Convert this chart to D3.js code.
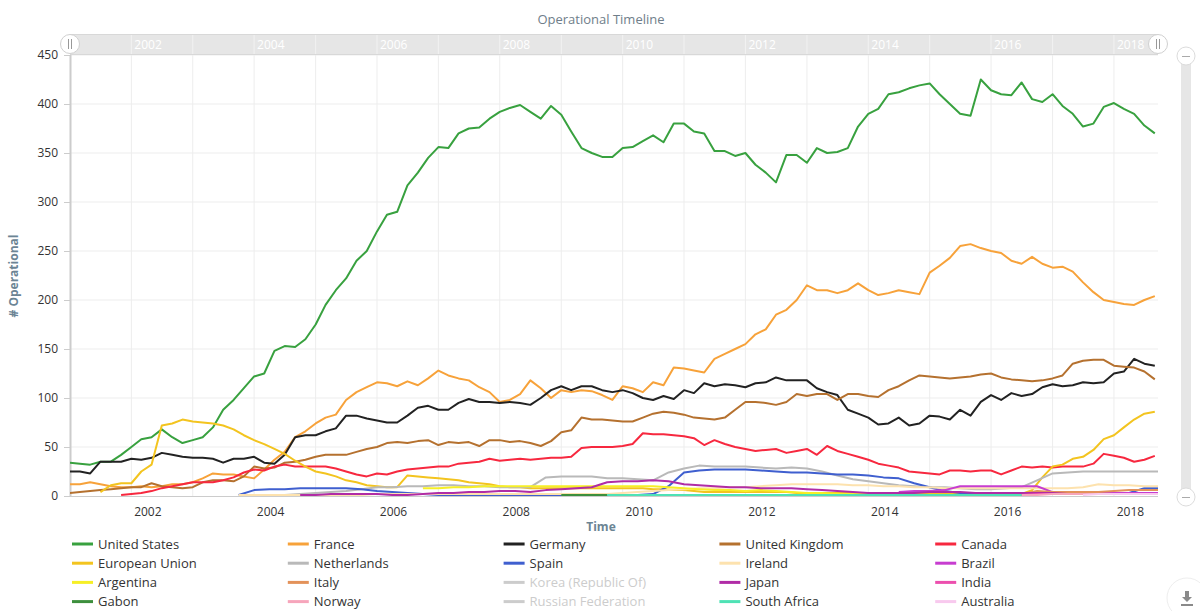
<!DOCTYPE html>
<html>
<head>
<meta charset="utf-8">
<script src="https://cdn.jsdelivr.net/npm/d3@7"></script>
<style>
  body { margin: 0; background: #fff; font-family: "Open Sans", sans-serif; }
</style>
</head>
<body>
<script>
// values, US..Canada every 2 months, the small ones every quarter
var usValues = [34,33,32,35,35,42,50,58,60,68, 60,54,57,60,70,88,98,110,122,125,
  148,153,152,160,175,195,210,222,240,250, 270,287,290,317,330,345,356,355,370,375,
  376,385,392,396,399,392,385,398,389,372, 355,350,346,346,355,356,362,368,361,380,
  380,372,370,352,352,347,350,338,330,320, 348,348,340,355,350,351,355,377,390,395,
  410,412,416,419,421,410,400,390,388,425, 414,410,409,422,405,402,410,398,390,377,
  380,397,401,395,390,378,370];
var franceValues = [12,12,14,12,10,9,9,10,9,10, 12,12,14,18,23,22,22,20,18,27,
  37,45,60,66,74,80,83,98,106,111, 116,115,112,117,113,120,128,123,120,118,
  111,106,96,98,104,118,110,100,108,106, 108,107,103,98,112,110,106,116,113,131,
  130,128,126,140,145,150,155,165,170,185, 190,200,215,210,210,207,210,217,210,205,
  207,210,208,206,228,235,243,255,257,253, 250,248,240,237,244,237,233,234,229,218,
  208,200,198,196,195,200,204];
var germanyValues = [25,25,23,35,35,35,38,37,39,44, 42,40,39,39,38,34,38,38,40,34,
  33,42,60,62,62,66,69,82,82,79, 77,75,75,82,90,92,88,88,95,99,
  96,96,95,96,95,93,100,108,112,108, 112,112,108,106,108,105,100,98,102,99,
  108,105,115,112,114,113,111,115,116,121, 118,118,118,110,106,103,88,84,80,73,
  74,80,72,74,82,81,78,88,82,96, 103,98,105,102,104,111,114,112,113,116,
  115,116,125,127,140,135,133];
var ukValues = [3,4,5,6,7,8,9,9,13,10, 9,8,9,14,16,16,15,20,30,28,
  29,34,35,37,40,42,42,42,45,48, 50,54,55,54,56,57,52,55,54,55,
  51,57,57,55,56,54,51,56,65,67, 80,78,78,77,76,76,80,84,86,85,
  83,80,79,78,80,88,96,96,95,93, 96,104,102,104,104,98,104,104,102,101,
  108,112,118,123,122,121,120,121,122,124, 125,121,119,118,117,118,120,123,135,138,
  139,139,133,132,131,127,119];
var canadaValues = [1,2,3,5,8, 10,12,14,14,14,16,19,24,27,26,
  30,32,30,30,30,30,28,25,22,20, 23,22,25,27,28,29,30,30,33,34,
  35,38,36,37,38,37,38,39,39,40, 49,50,50,50,51,53,64,63,63,62,
  61,59,52,57,53,50,48,46,47,48, 44,46,48,42,51,46,43,40,37,33,
  31,29,25,24,23,22,26,26,25,26, 26,22,26,30,29,30,29,30,30,30,
  33,43,41,39,35,37,41];
var euValues = [4,11,13,13,25,32,72, 74,78,76,75,74,72,68,62,57,53,
  48,43,36,30,25,23,20,16,14,11, 10,9,9,21,20,19,18,17,16,14,
  13,12,10,9,9,8,8,8,8,8, 8,8,8,8,8,8,8,7,7,6,
  6,5,4,4,4,4,4,4,4,4, 4,3,3,3,3,3,3,3,3,3,
  3,2,2,2,2,2,2,2,2,2, 2,2,2,2,6,19,30,32,38,40,
  47,58,62,70,78,84,86];
var netherlandsValues = [1,2,3,4,5,7,9,9,10,10, 11,11,10,10,9,9,9,19,20,20,
  20,18,18,17,16,24,28,31,30,30, 30,29,28,29,28,25,21,17,15,13,
  11,10,9,9,8,7,7,8,9,16, 23,24,25,25,25,25,25,25];
var spainValues = [1,6,7,7,8,8,8,8,7,5,4,3,2,
  1,1,1,1,1,1,1,1,1,1,1,1,1,1,
  2,10,24,26,27,27,27,26,25,24,24,23,22,22,21,19,18,13,9,5,3,3,
  2,2,2,2,2,2,2,2,2, 3,8,8];
var irelandValues = [1,1,1,1,1,1,1,1,1,
  2,2,2,2,2,2,2,2,2,2,2,2,2,2,2,2,
  3,4,5,6,7,8,8,9,9,10,11,12,12,12,12,11,11,10,10,9,9,8,8,8,8,8,8,8,8,8,9,12,11,11,10,10];
var brazilValues = [4,5,5,6,10,10,10,10,10,10,4,3,3,3,3,3,3,3];
var argentinaValues = [8,8,9,9,10,10,10,10,10,10,10,10,10,10,10,10,9,8,7,6,6,5,6,5,4,3,3,2,2,2,2];
var italyValues = [2,5,4,4,4,4,5,6,6,6];
var japanValues = [1,1,2,2,2,2,1,1,2,3, 3,4,4,5,5,4,6,7,8,9,
  14,15,15,16,15,12,11,10,9,9, 8,8,8,7,6,5,4,3,3,3,
  3,4,4,4,3,3,3,3,3,3, 2,2,2,2,2,2,2,2];
var indiaValues = [1,1,1,1,1,1,1,1,1,1,1,1,1,1,1,1,2,2,2,2,2,2,2,2,2];
var gabonValues = [1,1,1,1];
var norwayValues = [1,1,2,2,2,2,2,2,2,2];
var southAfricaValues = [1,1,1,1,1,1,1,1,1,1,1,1,1,1,1,1,1,1,1,1,1,1,1,1,1,1,1,1];
var australiaValues = [1,2,2,2,2,2];

var yTicks = [0,50,100,150,200,250,300,350,400,450];
var yearLabels = [2002,2004,2006,2008,2010,2012,2014,2016,2018];

// name, colour, first month, step in months, values, hidden?
var series = [
  {name: 'United States', color: '#38a13f', start: [2001,0], step: 2, values: usValues},
  {name: 'France', color: '#f7a23a', start: [2001,0], step: 2, values: franceValues},
  {name: 'Germany', color: '#222222', start: [2001,0], step: 2, values: germanyValues},
  {name: 'United Kingdom', color: '#b5712f', start: [2001,0], step: 2, values: ukValues},
  {name: 'Canada', color: '#f7283f', start: [2001,10], step: 2, values: canadaValues},
  {name: 'European Union', color: '#f3c41f', start: [2001,6], step: 2, values: euValues},
  {name: 'Netherlands', color: '#b9b9b9', start: [2004,6], step: 3, values: netherlandsValues},
  {name: 'Spain', color: '#3f5fcf', start: [2003,9], step: 3, values: spainValues},
  {name: 'Ireland', color: '#fde2ae', start: [2003,9], step: 3, values: irelandValues},
  {name: 'Brazil', color: '#c73dd0', start: [2014,6], step: 3, values: brazilValues},
  {name: 'Argentina', color: '#f6ef26', start: [2006,9], step: 3, values: argentinaValues},
  {name: 'Italy', color: '#e3925a', start: [2016,6], step: 3, values: italyValues},
  {name: 'Korea (Republic Of)', color: '#cccccc', start: [2001,0], step: 3, values: [], hidden: true},
  {name: 'Japan', color: '#b02ca6', start: [2004,9], step: 3, values: japanValues},
  {name: 'India', color: '#ec4fae', start: [2012,9], step: 3, values: indiaValues},
  {name: 'Gabon', color: '#3d8f3d', start: [2009,0], step: 3, values: gabonValues},
  {name: 'Norway', color: '#f6a5bb', start: [2016,6], step: 3, values: norwayValues},
  {name: 'Russian Federation', color: '#cccccc', start: [2001,0], step: 3, values: [], hidden: true},
  {name: 'South Africa', color: '#4fe2b5', start: [2009,9], step: 3, values: southAfricaValues},
  {name: 'Australia', color: '#f8c9ee', start: [2017,6], step: 3, values: australiaValues}
];

var svg = d3.select('body').append('svg')
  .attr('width', 1200)
  .attr('height', 611)
  .style('font-family', '"Open Sans", sans-serif');

var plotLeft = 70, plotRight = 1158, plotTop = 55, plotBottom = 496;

var x = d3.scaleTime()
  .domain([new Date(2001, 0, 1), new Date(2018, 8, 20)])
  .range([plotLeft, plotRight]);
var y = d3.scaleLinear().domain([0, 450]).range([plotBottom, plotTop]);

// title
svg.append('text')
  .attr('x', 601).attr('y', 24)
  .attr('text-anchor', 'middle')
  .style('font-size', '13px').style('fill', '#6f7e8a')
  .text('Operational Timeline');

// grid
var years = d3.range(2002, 2019).map(function(yr) { return new Date(yr, 0, 1); });
svg.append('g').selectAll('line').data(years).enter().append('line')
  .attr('x1', function(d) { return x(d); }).attr('x2', function(d) { return x(d); })
  .attr('y1', plotTop).attr('y2', plotBottom)
  .style('stroke', '#ededed');
svg.append('g').selectAll('line').data(yTicks.slice(1)).enter().append('line')
  .attr('x1', plotLeft).attr('x2', plotRight)
  .attr('y1', function(d) { return y(d); }).attr('y2', function(d) { return y(d); })
  .style('stroke', '#ededed');

// navigator band on top
svg.append('rect').attr('x', plotLeft).attr('y', 34).attr('width', plotRight - plotLeft).attr('height', 21)
  .style('fill', '#e6e6e6');
svg.append('line').attr('x1', plotLeft).attr('x2', plotRight).attr('y1', 34.5).attr('y2', 34.5).style('stroke', '#d8d8d8');
svg.append('line').attr('x1', plotLeft).attr('x2', plotRight).attr('y1', 54.5).attr('y2', 54.5).style('stroke', '#d8d8d8');
svg.append('g').selectAll('line').data(years).enter().append('line')
  .attr('x1', function(d) { return x(d); }).attr('x2', function(d) { return x(d); })
  .attr('y1', 35).attr('y2', 54)
  .style('stroke', '#f2f2f2');
svg.append('g').selectAll('text').data(yearLabels).enter().append('text')
  .attr('x', function(d) { return x(new Date(d, 0, 1)) + 3; })
  .attr('y', 49)
  .style('font-size', '12px').style('fill', '#ffffff')
  .text(function(d) { return d; });

[plotLeft, plotRight].forEach(function(hx) {
  var h = svg.append('g').attr('transform', 'translate(' + hx + ',44)');
  h.append('circle').attr('r', 9.5).style('fill', '#fff').style('stroke', '#d0d0d0');
  h.append('line').attr('x1', -1.5).attr('x2', -1.5).attr('y1', -5).attr('y2', 5).style('stroke', '#999');
  h.append('line').attr('x1', 1.5).attr('x2', 1.5).attr('y1', -5).attr('y2', 5).style('stroke', '#999');
});

// axes
var yAxis = svg.append('g')
  .attr('transform', 'translate(' + plotLeft + ',0)')
  .call(d3.axisLeft(y).tickValues(yTicks).tickSize(6).tickPadding(6));
yAxis.select('.domain').remove();
yAxis.selectAll('line').style('stroke', '#cccccc');
yAxis.selectAll('text').style('font-size', '12px').style('fill', '#333').style('font-family', '"Open Sans", sans-serif');
svg.append('line').attr('x1', plotLeft + 0.5).attr('x2', plotLeft + 0.5).attr('y1', plotTop).attr('y2', plotBottom + 1)
  .style('stroke', '#cccccc').style('stroke-width', 2);

var xAxis = svg.append('g')
  .attr('transform', 'translate(0,' + plotBottom + ')')
  .call(d3.axisBottom(x).tickValues(yearLabels.map(function(d) { return new Date(d, 0, 1); }))
    .tickSize(0).tickPadding(11).tickFormat(d3.timeFormat('%Y')));
xAxis.select('.domain').remove();
xAxis.selectAll('text').attr('dx', 16)
  .style('font-size', '12px').style('fill', '#333').style('font-family', '"Open Sans", sans-serif');
svg.append('line').attr('x1', plotLeft).attr('x2', plotRight).attr('y1', plotBottom + 0.5).attr('y2', plotBottom + 0.5)
  .style('stroke', '#cccccc');

svg.append('text')
  .attr('x', 601).attr('y', 531)
  .attr('text-anchor', 'middle')
  .style('font-size', '12px').style('font-weight', 'bold').style('fill', '#6b8494')
  .text('Time');
svg.append('text')
  .attr('transform', 'translate(18,276) rotate(-90)')
  .attr('text-anchor', 'middle')
  .style('font-size', '12px').style('font-weight', 'bold').style('fill', '#6b8494')
  .text('# Operational');

// lines
svg.append('clipPath').attr('id', 'plot')
  .append('rect').attr('x', plotLeft).attr('y', plotTop - 5).attr('width', plotRight - plotLeft).attr('height', plotBottom - plotTop + 8);

var line = d3.line()
  .x(function(d) { return x(d.date); })
  .y(function(d) { return y(d.value); });

svg.append('g').attr('clip-path', 'url(#plot)')
  .selectAll('path')
  .data(series.filter(function(s) { return !s.hidden; }))
  .enter().append('path')
  .attr('d', function(s) {
    var first = new Date(s.start[0], s.start[1], 1);
    return line(s.values.map(function(v, i) {
      return {date: d3.timeMonth.offset(first, i * s.step), value: v};
    }));
  })
  .style('fill', 'none')
  .style('stroke', function(s) { return s.color; })
  .style('stroke-width', 2)
  .style('stroke-linejoin', 'round');

// legend, 5 per row
var legend = svg.append('g').selectAll('g').data(series).enter().append('g')
  .attr('transform', function(d, i) {
    return 'translate(' + (72 + (i % 5) * 215.8) + ',' + (544 + Math.floor(i / 5) * 19.2) + ')';
  });
legend.append('line')
  .attr('x1', 0).attr('x2', 21).attr('y1', 0).attr('y2', 0)
  .style('stroke', function(d) { return d.hidden ? '#cccccc' : d.color; })
  .style('stroke-width', 3);
legend.append('text')
  .attr('x', 26).attr('y', 4.5)
  .style('font-size', '13px')
  .style('fill', function(d) { return d.hidden ? '#cccccc' : '#333333'; })
  .text(function(d) { return d.name; });

// vertical scrollbar at the right
svg.append('rect').attr('x', 1181).attr('y', 60).attr('width', 10).attr('height', 432).style('fill', '#e6e6e6');
[56, 497].forEach(function(by) {
  var b = svg.append('g').attr('transform', 'translate(1186,' + by + ')');
  b.append('circle').attr('r', 9).style('fill', '#fff').style('stroke', '#dcdcdc');
  b.append('line').attr('x1', -4).attr('x2', 4).attr('y1', 0.5).attr('y2', 0.5).style('stroke', '#aaa');
});

// download button
var dl = svg.append('g').attr('transform', 'translate(1187,598)');
dl.append('circle').attr('r', 20).style('fill', '#fff').style('stroke', '#eeeeee');
dl.append('rect').attr('x', -2).attr('y', -7).attr('width', 4).attr('height', 6).style('fill', '#8a8a8a');
dl.append('path').attr('d', 'M-5,-1 L5,-1 L0,4 Z').style('fill', '#8a8a8a');
dl.append('rect').attr('x', -6).attr('y', 6).attr('width', 12).attr('height', 2).style('fill', '#8a8a8a');
</script>
</body>
</html>
